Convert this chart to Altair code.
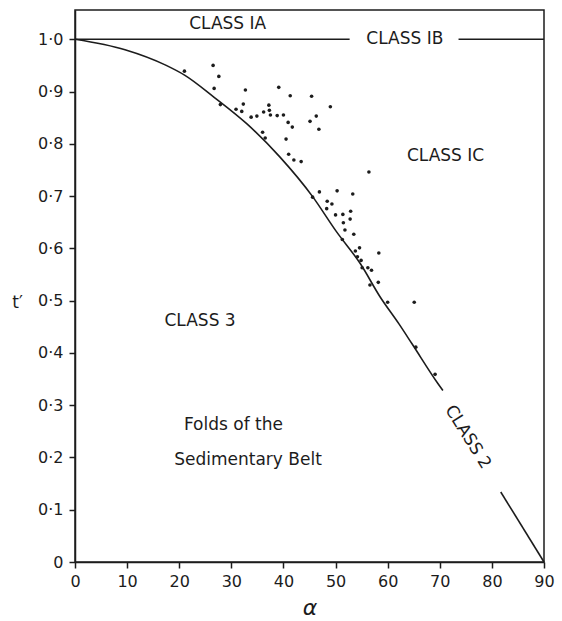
import altair as alt
import pandas as pd

INK = "#1c1c1c"
FONT = "DejaVu Sans"

# Observed folds (alpha, t')
alpha_pts = [21.0, 26.5, 27.6, 26.7, 32.7, 39.1, 41.3, 45.4, 49.0, 27.9,
             30.9, 32.0, 32.3, 33.8, 34.9, 36.2, 37.2, 37.3, 37.5, 38.8,
             40.0, 40.9, 41.7, 45.1, 46.3, 46.8, 36.0, 36.5, 40.5, 41.0,
             42.0, 43.4, 45.6, 46.9, 50.3, 53.3, 56.4, 48.4, 49.3, 48.3,
             50.0, 51.4, 52.9, 51.5, 52.8, 51.8, 53.5, 51.3, 53.8, 54.6,
             58.3, 54.2, 54.9, 55.1, 56.2, 56.9, 56.6, 58.2, 60.0, 65.1,
             65.4, 69.1]
t_pts = [0.939, 0.950, 0.929, 0.906, 0.903, 0.908, 0.892, 0.891, 0.871, 0.875,
         0.866, 0.862, 0.876, 0.851, 0.853, 0.861, 0.874, 0.864, 0.855, 0.854,
         0.855, 0.841, 0.832, 0.843, 0.853, 0.828, 0.822, 0.811, 0.809, 0.780,
         0.769, 0.766, 0.698, 0.708, 0.710, 0.704, 0.746, 0.690, 0.685, 0.676,
         0.664, 0.665, 0.671, 0.649, 0.656, 0.635, 0.627, 0.617, 0.595, 0.601,
         0.591, 0.584, 0.577, 0.563, 0.563, 0.558, 0.530, 0.535, 0.497, 0.497,
         0.411, 0.359]

# Class 2 boundary curve (two pieces, gap for label)
curve_a_alpha = [0, 9.6, 17.3, 21.1, 26.7, 33.0, 39.3, 45.6, 50.1, 54.8,
                 58.5, 62.2, 64.7, 69.6, 70.6]
curve_a_t = [1.0, 0.980, 0.951, 0.931, 0.889, 0.838, 0.775, 0.699, 0.633, 0.570,
             0.508, 0.455, 0.417, 0.342, 0.328]
curve_b_alpha = [81.7, 90.0]
curve_b_t = [0.134, 0.0]

# t' = 1.0 boundary (Class 1B), broken for its label
line_start = [0.0, 73.6]
line_end = [52.7, 90.0]
line_t = [1.0, 1.0]

# Region labels
label_text = ["CLASS  IA", "CLASS  IB", "CLASS  IC", "CLASS  3",
              "Folds    of    the", "Sedimentary    Belt"]
label_alpha = [29.3, 63.3, 71.1, 24.0, 30.4, 33.2]
label_t = [1.029, 1.0, 0.776, 0.461, 0.262, 0.195]

class2_text = ["CLASS   2"]
class2_alpha = [75.4]
class2_t = [0.239]

x_ticks = [0, 10, 20, 30, 40, 50, 60, 70, 80, 90]
y_ticks = [0, 0.1, 0.2, 0.3, 0.4, 0.5, 0.6, 0.7, 0.8, 0.9, 1.0]

points = pd.DataFrame({"alpha": alpha_pts, "t": t_pts})
curve = pd.DataFrame({
    "alpha": curve_a_alpha + curve_b_alpha,
    "t": curve_a_t + curve_b_t,
    "seg": ["a"] * len(curve_a_alpha) + ["b"] * len(curve_b_alpha),
})
lines = pd.DataFrame({"x0": line_start, "x1": line_end, "t": line_t})
labels = pd.DataFrame({"text": label_text, "alpha": label_alpha, "t": label_t})
class2 = pd.DataFrame({"text": class2_text, "alpha": class2_alpha, "t": class2_t})

xs = alt.Scale(domain=[0, 90], nice=False, zero=False)
ys = alt.Scale(domain=[0, 1.056], nice=False, zero=False)

x_axis = alt.Axis(values=x_ticks, grid=False, tickSize=6, labelPadding=5,
                  labelFontSize=16, labelFont=FONT, labelColor=INK,
                  domainColor=INK, tickColor=INK, domainWidth=1.5, tickWidth=1.5,
                  title="α", titleFontSize=22, titleFont=FONT, titleColor=INK,
                  titleFontWeight="normal", titleFontStyle="italic",
                  titlePadding=8, labelFlush=False)
y_axis = alt.Axis(values=y_ticks, grid=False, tickSize=6, labelPadding=6,
                  labelFontSize=16, labelFont=FONT, labelColor=INK,
                  labelExpr="datum.value == 0 ? '0' : replace(format(datum.value, '.1f'), '.', '·')",
                  domainColor=INK, tickColor=INK, domainWidth=1.5, tickWidth=1.5,
                  title="t′", titleAngle=0, titleFontSize=17, titleFont=FONT,
                  titleColor=INK, titleFontWeight="normal", titleX=-58, titleY=292,
                  titleAlign="center", titleBaseline="middle", labelFlush=False)

pts = alt.Chart(points).mark_circle(size=13, color=INK, opacity=1).encode(
    x=alt.X("alpha:Q", scale=xs, axis=x_axis),
    y=alt.Y("t:Q", scale=ys, axis=y_axis),
)

crv = alt.Chart(curve).mark_line(color=INK, strokeWidth=1.6, interpolate="monotone").encode(
    x=alt.X("alpha:Q", scale=xs),
    y=alt.Y("t:Q", scale=ys),
    detail="seg:N",
)

rules = alt.Chart(lines).mark_rule(color=INK, strokeWidth=1.5).encode(
    x=alt.X("x0:Q", scale=xs),
    x2="x1:Q",
    y=alt.Y("t:Q", scale=ys),
)

txt = alt.Chart(labels).mark_text(font=FONT, fontSize=17, color=INK,
                                  align="center", baseline="middle").encode(
    x=alt.X("alpha:Q", scale=xs),
    y=alt.Y("t:Q", scale=ys),
    text="text:N",
)

txt2 = alt.Chart(class2).mark_text(font=FONT, fontSize=17, color=INK, angle=58,
                                   align="center", baseline="middle").encode(
    x=alt.X("alpha:Q", scale=xs),
    y=alt.Y("t:Q", scale=ys),
    text="text:N",
)

chart = alt.layer(rules, crv, pts, txt, txt2).properties(
    width=469, height=552,
    autosize=alt.AutoSizeParams(type="none"),
    padding={"left": 75, "top": 10, "right": 18, "bottom": 59},
    background="white",
).configure_view(stroke=INK, strokeWidth=1.5)

chart.save("out.html", embed_options={"renderer": "svg", "actions": False})
